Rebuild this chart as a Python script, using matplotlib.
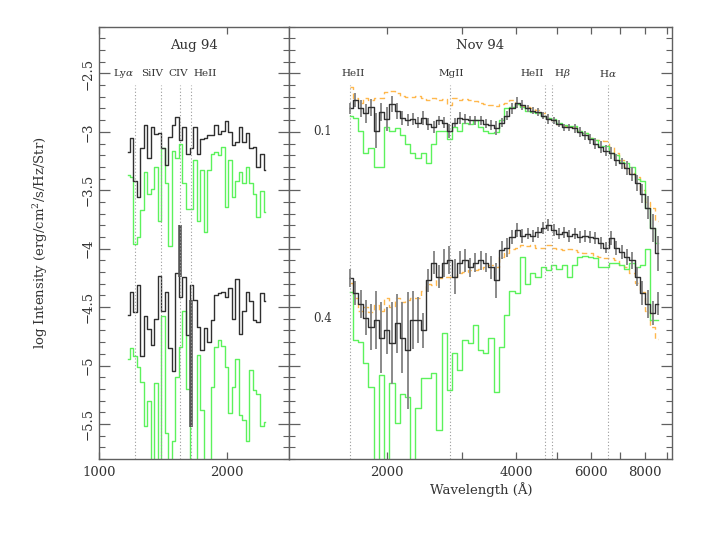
import numpy as np
import matplotlib
matplotlib.use('Agg')
import matplotlib.pyplot as plt
from matplotlib.ticker import FixedLocator, FixedFormatter, NullFormatter, NullLocator, MultipleLocator

plt.rcParams['font.family'] = ['DejaVu Serif']
plt.rcParams['mathtext.fontset'] = 'dejavuserif'

# ---------------- data: Aug 94 (left panel) ----------------
aug_wl = np.geomspace(1169, 2455, 40)
aug_top_black = [-3.17, -3.05, -3.42, -3.56, -3.14, -2.94, -3.22, -2.96, -3.02, -3.01,
                 -3.14, -3.28, -3.04, -2.94, -2.87, -3.07, -2.96, -3.19, -3.14, -2.96,
                 -3.19, -3.06, -3.05, -3.03, -3.03, -2.94, -3.02, -2.99, -2.91, -3.00,
                 -3.11, -3.09, -2.96, -3.09, -3.01, -3.14, -3.13, -3.30, -3.19, -3.33]
aug_top_green = [-3.37, -3.39, -3.96, -3.90, -3.67, -3.34, -3.53, -3.49, -3.30, -3.76,
                 -3.14, -3.44, -3.98, -3.16, -3.22, -3.10, -3.44, -3.66, -3.66, -3.24,
                 -3.76, -3.33, -3.86, -3.33, -3.19, -3.17, -3.20, -3.13, -3.64, -3.24,
                 -3.56, -3.42, -3.34, -3.44, -3.30, -3.44, -3.53, -3.73, -3.51, -3.69]
aug_bot_black = [-4.57, -4.37, -4.54, -4.31, -4.92, -4.58, -4.69, -4.82, -4.60, -4.23,
                 -4.53, -4.37, -4.85, -5.05, -4.21, -4.41, -4.24, -4.74, -4.31, -4.44,
                 -4.67, -4.87, -4.68, -4.80, -4.61, -4.40, -4.38, -4.37, -4.41, -4.34,
                 -4.60, -4.26, -4.73, -4.53, -4.37, -4.45, -4.61, -4.63, -4.38, -4.45]
aug_bot_green = [-4.94, -4.85, -4.92, -5.01, -5.14, -5.52, -5.30, -5.89, -5.15, -5.89,
                 -4.58, -5.58, -5.89, -5.65, -5.10, -4.84, -4.53, -5.20, -5.89, -5.89,
                 -4.91, -5.38, -5.89, -5.89, -5.18, -4.84, -4.78, -4.83, -5.01, -5.41,
                 -5.18, -4.94, -5.42, -5.47, -5.65, -5.04, -5.21, -5.24, -5.52, -5.48]
aug_bar_wl = [1549, 1645]
aug_bar_lo = [-4.24, -5.53]
aug_bar_hi = [-3.80, -4.44]

# ---------------- data: Nov 94 (right panel) ----------------
nov_wl = np.geomspace(1640, 8600, 60)
nov_top_black = [-2.80, -2.73, -2.80, -2.84, -2.79, -2.99, -2.83, -2.89, -2.76, -2.82,
                 -2.88, -2.90, -2.89, -2.92, -2.88, -2.93, -2.96, -2.90, -2.92, -2.99,
                 -2.92, -2.88, -2.89, -2.90, -2.90, -2.90, -2.93, -2.94, -2.97, -2.92,
                 -2.86, -2.80, -2.75, -2.77, -2.80, -2.82, -2.83, -2.86, -2.89, -2.90,
                 -2.93, -2.96, -2.96, -2.97, -3.00, -3.03, -3.06, -3.10, -3.13, -3.16,
                 -3.18, -3.24, -3.27, -3.31, -3.36, -3.44, -3.53, -3.65, -3.82, -4.04]
nov_top_err = [0.05, 0.06, 0.07, 0.08, 0.07, 0.15, 0.08, 0.10, 0.07, 0.07,
               0.06, 0.05, 0.05, 0.05, 0.06, 0.05, 0.05, 0.04, 0.05, 0.06,
               0.04, 0.05, 0.04, 0.04, 0.04, 0.04, 0.04, 0.04, 0.06, 0.04,
               0.04, 0.05, 0.05, 0.04, 0.03, 0.03, 0.03, 0.03, 0.04, 0.03,
               0.03, 0.03, 0.03, 0.04, 0.04, 0.04, 0.04, 0.05, 0.05, 0.05,
               0.05, 0.05, 0.05, 0.06, 0.06, 0.07, 0.08, 0.10, 0.12, 0.15]
nov_top_green = [-2.86, -2.88, -2.99, -3.18, -3.14, -3.30, -3.30, -2.96, -2.99, -2.97,
                 -3.03, -3.10, -3.18, -3.22, -3.18, -3.27, -3.10, -2.99, -2.99, -3.06,
                 -2.96, -2.99, -2.92, -2.93, -2.90, -2.96, -2.99, -3.01, -3.00, -2.90,
                 -2.80, -2.79, -2.76, -2.79, -2.82, -2.83, -2.84, -2.86, -2.88, -2.89,
                 -2.92, -2.94, -2.95, -2.95, -2.99, -3.01, -3.05, -3.07, -3.12, -3.12,
                 -3.18, -3.20, -3.26, -3.27, -3.30, -3.40, -3.42, -3.65, -3.82, -3.95]
nov_top_model = [-2.62, -2.71, -2.75, -2.71, -2.73, -2.71, -2.71, -2.66, -2.65, -2.67,
                 -2.69, -2.70, -2.70, -2.69, -2.71, -2.73, -2.71, -2.73, -2.72, -2.77,
                 -2.71, -2.73, -2.72, -2.73, -2.74, -2.75, -2.76, -2.77, -2.78, -2.76,
                 -2.75, -2.73, -2.76, -2.78, -2.79, -2.80, -2.81, -2.84, -2.88, -2.90,
                 -2.93, -2.95, -2.96, -2.96, -2.99, -3.01, -3.05, -3.07, -3.07, -3.08,
                 -3.13, -3.18, -3.24, -3.30, -3.35, -3.39, -3.50, -3.60, -3.65, -3.76]
nov_bot_black = [-4.25, -4.38, -4.47, -4.59, -4.67, -4.61, -4.76, -4.70, -4.81, -4.64,
                 -4.76, -4.87, -4.61, -4.61, -4.70, -4.27, -4.12, -4.24, -4.12, -4.10,
                 -4.24, -4.12, -4.10, -4.16, -4.12, -4.10, -4.12, -4.16, -4.27, -4.01,
                 -3.99, -3.90, -3.84, -3.89, -3.87, -3.89, -3.86, -3.82, -3.80, -3.84,
                 -3.87, -3.86, -3.89, -3.87, -3.90, -3.89, -3.90, -3.91, -3.95, -3.99,
                 -3.91, -3.99, -4.03, -4.07, -4.10, -4.24, -4.38, -4.47, -4.55, -4.47]
nov_bot_err = [0.08, 0.10, 0.12, 0.15, 0.20, 0.25, 0.30, 0.20, 0.35, 0.25,
               0.30, 0.50, 0.25, 0.20, 0.15, 0.10, 0.10, 0.10, 0.12, 0.12,
               0.15, 0.10, 0.10, 0.08, 0.08, 0.08, 0.08, 0.10, 0.15, 0.08,
               0.08, 0.06, 0.06, 0.06, 0.05, 0.05, 0.05, 0.05, 0.05, 0.05,
               0.05, 0.05, 0.05, 0.05, 0.05, 0.05, 0.05, 0.05, 0.05, 0.05,
               0.06, 0.06, 0.06, 0.07, 0.07, 0.08, 0.10, 0.12, 0.10, 0.10]
nov_bot_green = [-4.37, -4.78, -4.80, -4.98, -5.18, -6.00, -5.08, -6.00, -5.15, -5.49,
                 -5.24, -5.27, -6.00, -5.36, -5.11, -5.11, -5.06, -5.55, -4.72, -5.21,
                 -4.89, -5.04, -4.78, -4.81, -4.65, -4.87, -4.89, -4.76, -5.23, -4.84,
                 -4.57, -4.36, -4.38, -4.07, -4.30, -4.21, -4.24, -4.16, -4.18, -4.14,
                 -4.17, -4.14, -4.24, -4.14, -4.07, -4.06, -4.07, -4.08, -4.16, -4.16,
                 -4.12, -4.12, -4.14, -4.17, -4.12, -4.16, -4.14, -4.00, -4.61, -4.61]
nov_bot_model = [-4.29, -4.42, -4.53, -4.50, -4.54, -4.48, -4.53, -4.42, -4.50, -4.42,
                 -4.46, -4.44, -4.42, -4.42, -4.36, -4.30, -4.31, -4.25, -4.24, -4.24,
                 -4.24, -4.21, -4.20, -4.18, -4.18, -4.17, -4.16, -4.14, -4.16, -4.07,
                 -4.04, -4.00, -3.99, -3.97, -3.98, -3.97, -3.99, -3.99, -3.97, -3.99,
                 -4.00, -4.01, -4.00, -4.01, -4.03, -4.04, -4.04, -4.06, -4.07, -4.08,
                 -4.08, -4.10, -4.14, -4.16, -4.21, -4.29, -4.37, -4.53, -4.67, -4.77]

# lines and labels
aug_lines = [1216, 1400, 1549, 1640]
aug_labels = [r'Ly$\alpha$', 'SiIV', 'CIV', 'HeII']
aug_label_x = [1146, 1334, 1535, 1776]
nov_lines = [1640, 2800, 4686, 4861, 6563]
nov_labels = ['HeII', 'MgII', 'HeII', r'H$\beta$', r'H$\alpha$']
nov_label_x = [1667, 2823, 4365, 5129, 6568]
offset_labels = ['0.1', '0.4']
offset_label_y = [-3.0, -4.6]

# ---------------- styling ----------------
BLACK = '#303030'
ERR = '#8a8a8a'
GREEN = '#5cf25c'
ORANGE = '#ffb84d'
FRAME = '#606060'
YLIM = (-5.80, -2.10)

fig = plt.figure(figsize=(7.07, 5.34), dpi=100)
axL = fig.add_axes([0.1400, 0.1404, 0.2687, 0.8096])
axR = fig.add_axes([0.4088, 0.1404, 0.5417, 0.8096])

for ax in (axL, axR):
    ax.set_xscale('log')
    ax.set_ylim(*YLIM)
    for s in ax.spines.values():
        s.set_color(FRAME)
        s.set_linewidth(1.0)
    ax.yaxis.set_major_locator(MultipleLocator(0.5))
    ax.yaxis.set_minor_locator(MultipleLocator(0.1))
    ax.tick_params(axis='both', which='both', direction='in', top=True, right=True,
                   color=FRAME, labelsize=9.5, labelcolor='#333333')
    ax.tick_params(axis='y', which='major', length=8, width=0.9)
    ax.tick_params(axis='y', which='minor', length=4, width=0.8)
    ax.tick_params(axis='x', which='both', length=5, width=0.9, pad=5)

# ----- left panel -----
axL.set_xlim(1000, 2790)
axL.step(aug_wl, aug_top_green, where='mid', color=GREEN, lw=1.0)
axL.step(aug_wl, aug_bot_green, where='mid', color=GREEN, lw=1.0)
axL.step(aug_wl, aug_top_black, where='mid', color=BLACK, lw=1.0)
axL.step(aug_wl, aug_bot_black, where='mid', color=BLACK, lw=1.0)
axL.vlines(aug_bar_wl, aug_bar_lo, aug_bar_hi, color='#555555', lw=2.6)
axL.vlines(aug_lines, YLIM[0], -2.60, color='#9a9a9a', lw=0.8, linestyles=(0, (1, 2)))
for x, t in zip(aug_label_x, aug_labels):
    axL.text(x, -2.5, t, ha='center', va='center', fontsize=7.5, color='#333333')
axL.text(0.5, -2.26, 'Aug 94', transform=axL.get_yaxis_transform(), ha='center',
         va='center', fontsize=9.5, color='#333333')
axL.xaxis.set_major_locator(FixedLocator([1000, 2000]))
axL.xaxis.set_major_formatter(FixedFormatter(['1000', '2000']))
axL.xaxis.set_minor_locator(NullLocator())
yt = [-5.5, -5.0, -4.5, -4.0, -3.5, -3.0, -2.5]
axL.yaxis.set_major_locator(FixedLocator(yt))
axL.yaxis.set_major_formatter(FixedFormatter(['\u22125.5', '\u22125', '\u22124.5', '\u22124',
                                              '\u22123.5', '\u22123', '\u22122.5']))
for lab in axL.get_yticklabels():
    lab.set_rotation(90)
    lab.set_va('center')
axL.tick_params(axis='y', which='major', pad=3)
axL.set_ylabel('log Intensity (erg/cm$^2$/s/Hz/Str)', fontsize=9.5, color='#333333')
axL.yaxis.set_label_coords(-0.258, 0.5)

# ----- right panel -----
axR.set_xlim(1180, 9270)
axR.step(nov_wl, nov_top_model, where='mid', color=ORANGE, lw=1.0, linestyle=(0, (4, 2.5)))
axR.step(nov_wl, nov_bot_model, where='mid', color=ORANGE, lw=1.0, linestyle=(0, (4, 2.5)))
axR.step(nov_wl, nov_top_green, where='mid', color=GREEN, lw=1.0)
axR.step(nov_wl, nov_bot_green, where='mid', color=GREEN, lw=1.0)
axR.errorbar(nov_wl, nov_top_black, yerr=nov_top_err, fmt='none', ecolor=ERR, elinewidth=1.4, capsize=0)
axR.errorbar(nov_wl, nov_bot_black, yerr=nov_bot_err, fmt='none', ecolor=ERR, elinewidth=1.4, capsize=0)
axR.step(nov_wl, nov_top_black, where='mid', color=BLACK, lw=1.0)
axR.step(nov_wl, nov_bot_black, where='mid', color=BLACK, lw=1.0)
axR.vlines(nov_lines, YLIM[0], -2.60, color='#9a9a9a', lw=0.8, linestyles=(0, (1, 2)))
for x, t in zip(nov_label_x, nov_labels):
    axR.text(x, -2.5, t, ha='center', va='center', fontsize=7.5, color='#333333')
for t, y in zip(offset_labels, offset_label_y):
    axR.text(1417, y, t, ha='center', va='center', fontsize=8.5, color='#333333')
axR.text(0.5, -2.26, 'Nov 94', transform=axR.get_yaxis_transform(), ha='center',
         va='center', fontsize=9.5, color='#333333')
axR.xaxis.set_major_locator(FixedLocator([2000, 4000, 6000, 8000]))
axR.xaxis.set_major_formatter(FixedFormatter(['2000', '4000', '6000', '8000']))
axR.xaxis.set_minor_locator(FixedLocator([3000, 5000, 7000, 9000]))
axR.xaxis.set_minor_formatter(NullFormatter())
axR.yaxis.set_major_formatter(NullFormatter())

fig.text(481 / 707, 1 - 490 / 534, 'Wavelength (\u00c5)', ha='center', va='center',
         fontsize=9.5, color='#333333')

fig.savefig('out.png', dpi=100)
